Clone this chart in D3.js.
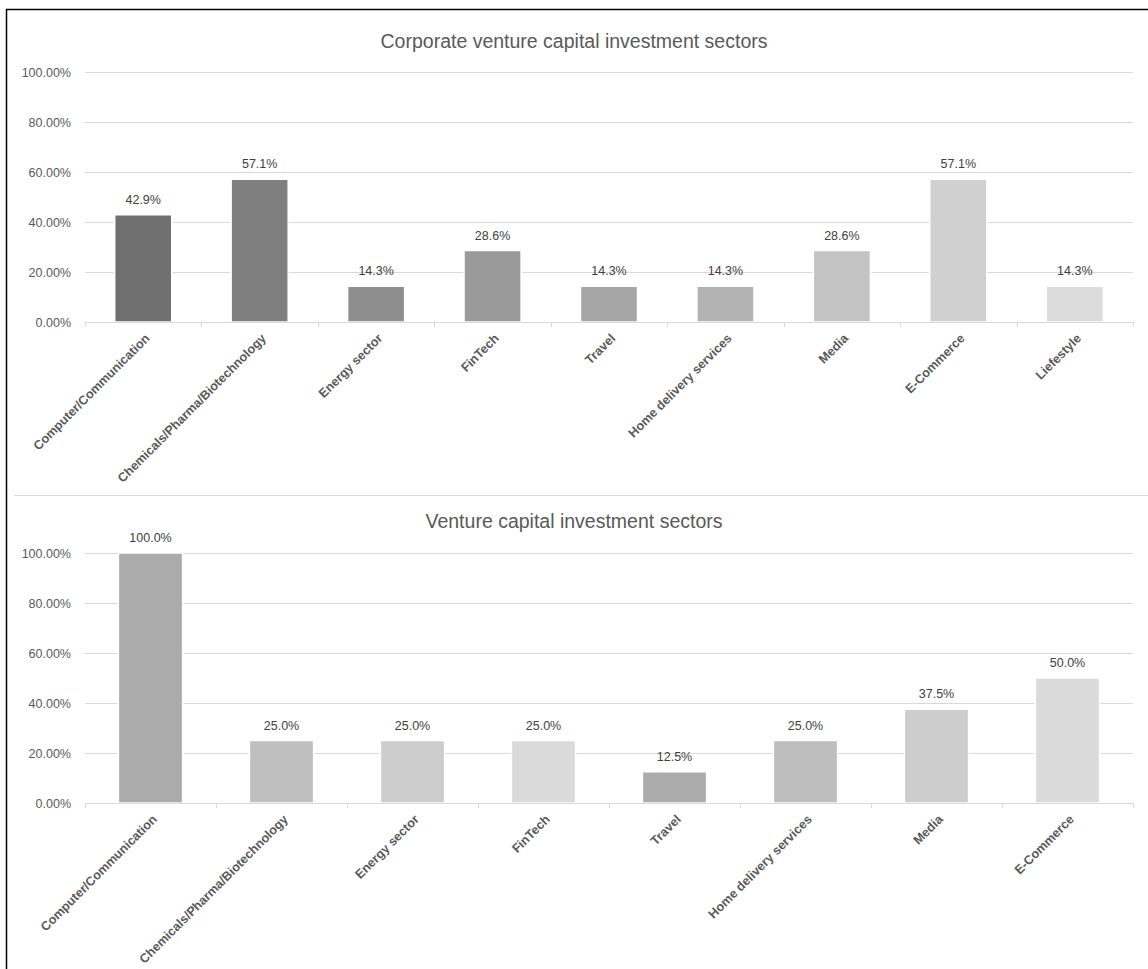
<!DOCTYPE html>
<html>
<head>
<meta charset="utf-8">
<script src="https://cdn.jsdelivr.net/npm/d3@7"></script>
<style>
  body { margin: 0; background: #fff; }
  svg text { font-family: "Liberation Sans", Arial, sans-serif; }
</style>
</head>
<body>
<div id="chart"></div>
<script>
// data
const yTicks = [0, 20, 40, 60, 80, 100];

const cvcTitle = "Corporate venture capital investment sectors";
const cvcSectors = ["Computer/Communication", "Chemicals/Pharma/Biotechnology", "Energy sector", "FinTech",
  "Travel", "Home delivery services", "Media", "E-Commerce", "Liefestyle"];
const cvcValues = [42.9, 57.1, 14.3, 28.6, 14.3, 14.3, 28.6, 57.1, 14.3];
const cvcColors = ["#707070", "#7f7f7f", "#8e8e8e", "#9a9a9a", "#a6a6a6", "#b3b3b3", "#c3c3c3", "#d0d0d0", "#dcdcdc"];

const vcTitle = "Venture capital investment sectors";
const vcSectors = ["Computer/Communication", "Chemicals/Pharma/Biotechnology", "Energy sector", "FinTech",
  "Travel", "Home delivery services", "Media", "E-Commerce"];
const vcValues = [100.0, 25.0, 25.0, 25.0, 12.5, 25.0, 37.5, 50.0];
const vcColors = ["#ababab", "#bfbfbf", "#cdcdcd", "#dadada", "#acacac", "#bebebe", "#cdcdcd", "#dadada"];

const width = 1148, height = 969;

const svg = d3.select("div#chart")
  .append("svg")
  .attr("width", width)
  .attr("height", height);

svg.append("rect").attr("width", width).attr("height", height).attr("fill", "#fff");

// outer frame (cut off at right and bottom)
svg.append("path")
  .attr("d", `M6.5 ${height} L6.5 9.5 L${width} 9.5`)
  .attr("fill", "none")
  .attr("stroke", "#000")
  .attr("stroke-width", 1.5);

// separator between the two charts
svg.append("line")
  .attr("x1", 14).attr("x2", width)
  .attr("y1", 495.5).attr("y2", 495.5)
  .attr("stroke", "#d9d9d9");

function drawChart(cfg) {
  const left = 85, right = 1133;
  const g = svg.append("g");

  const x = d3.scaleBand()
    .domain(cfg.sectors)
    .range([left, right])
    .paddingInner(0.51)
    .paddingOuter(0.255);

  const y = d3.scaleLinear()
    .domain([0, 100])
    .range([cfg.bottom, cfg.top]);

  g.append("text")
    .attr("x", 574)
    .attr("y", cfg.titleY)
    .attr("text-anchor", "middle")
    .attr("fill", "#595959")
    .style("font-size", "19.5px")
    .text(cfg.title);

  // gridlines
  g.selectAll("line.grid")
    .data(yTicks.slice(1))
    .enter().append("line")
    .attr("class", "grid")
    .attr("x1", left).attr("x2", right)
    .attr("y1", d => Math.round(y(d)) + 0.5)
    .attr("y2", d => Math.round(y(d)) + 0.5)
    .attr("stroke", "#d9d9d9");

  // y axis labels
  const yAxis = g.append("g")
    .attr("transform", `translate(${left},0)`)
    .call(d3.axisLeft(y).tickValues(yTicks).tickSize(0).tickPadding(14)
      .tickFormat(d => d.toFixed(2) + "%"));
  yAxis.select(".domain").remove();
  yAxis.selectAll("text")
    .attr("fill", "#595959")
    .style("font-size", "12.5px")
    .style("font-family", "Liberation Sans, Arial, sans-serif");

  // bars
  g.selectAll("rect.bar")
    .data(cfg.values)
    .enter().append("rect")
    .attr("class", "bar")
    .attr("x", (d, i) => x(cfg.sectors[i]))
    .attr("y", d => y(d))
    .attr("width", x.bandwidth())
    .attr("height", d => y(0) - y(d))
    .attr("fill", (d, i) => cfg.colors[i])
    .attr("stroke", "#fff")
    .attr("stroke-width", 1.5);

  // value labels
  g.selectAll("text.val")
    .data(cfg.values)
    .enter().append("text")
    .attr("class", "val")
    .attr("x", (d, i) => x(cfg.sectors[i]) + x.bandwidth() / 2)
    .attr("y", d => y(d) - 11)
    .attr("text-anchor", "middle")
    .attr("fill", "#404040")
    .style("font-size", "12.5px")
    .text(d => d.toFixed(1) + "%");

  // x axis
  const step = x.step();
  const xAxis = g.append("g")
    .attr("transform", `translate(0,${cfg.bottom})`);
  xAxis.append("line")
    .attr("x1", left).attr("x2", right)
    .attr("y1", 0.5).attr("y2", 0.5)
    .attr("stroke", "#d9d9d9");
  xAxis.selectAll("line.tick")
    .data(d3.range(cfg.sectors.length + 1))
    .enter().append("line")
    .attr("class", "tick")
    .attr("x1", i => Math.round(left + i * step) + 0.5)
    .attr("x2", i => Math.round(left + i * step) + 0.5)
    .attr("y1", 0).attr("y2", 5)
    .attr("stroke", "#d9d9d9");

  xAxis.selectAll("text.cat")
    .data(cfg.sectors)
    .enter().append("text")
    .attr("class", "cat")
    .attr("transform", d => `translate(${x(d) + x.bandwidth() / 2 + 4},14) rotate(-45)`)
    .attr("text-anchor", "end")
    .attr("dy", "0.35em")
    .attr("fill", "#595959")
    .style("font-size", "12.6px")
    .style("font-weight", "bold")
    .text(d => d);
}

drawChart({ title: cvcTitle, sectors: cvcSectors, values: cvcValues, colors: cvcColors,
  top: 72, bottom: 322, titleY: 48 });
drawChart({ title: vcTitle, sectors: vcSectors, values: vcValues, colors: vcColors,
  top: 553, bottom: 803, titleY: 528 });
</script>
</body>
</html>
